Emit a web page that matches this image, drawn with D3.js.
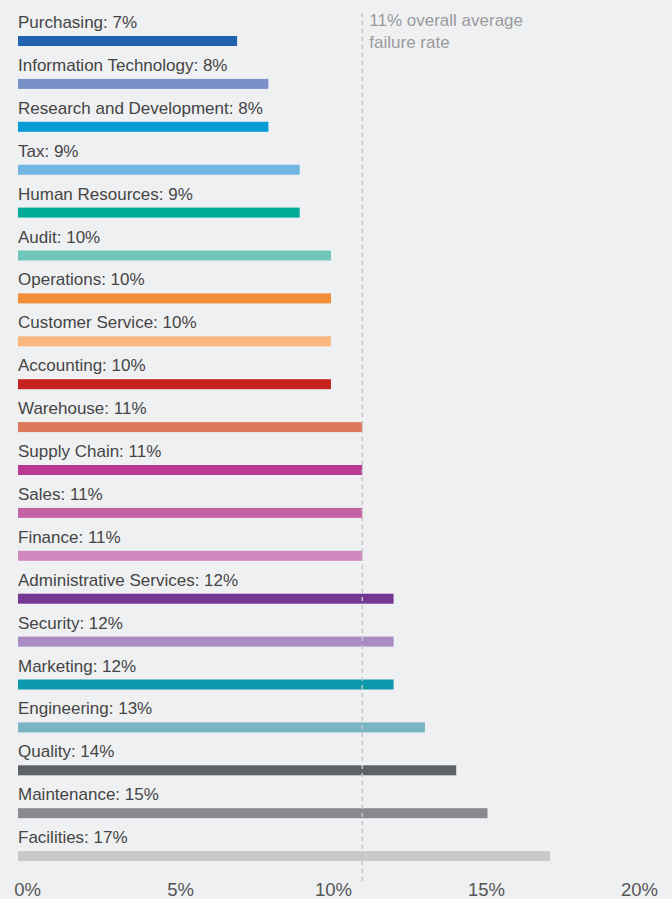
<!DOCTYPE html>
<html>
<head>
<meta charset="utf-8">
<script src="https://cdn.jsdelivr.net/npm/d3@7"></script>
<style>
  html, body { margin: 0; padding: 0; background: #eff0f2; }
  svg { display: block; font-family: "Liberation Sans", Arial, Helvetica, sans-serif; }
</style>
</head>
<body>
<svg id="chart" width="672" height="899"></svg>
<script>
// Failure rate by department
const departments = [
  "Purchasing", "Information Technology", "Research and Development", "Tax",
  "Human Resources", "Audit", "Operations", "Customer Service", "Accounting",
  "Warehouse", "Supply Chain", "Sales", "Finance", "Administrative Services",
  "Security", "Marketing", "Engineering", "Quality", "Maintenance", "Facilities"
];
const rates = [7, 8, 8, 9, 9, 10, 10, 10, 10, 11, 11, 11, 11, 12, 12, 12, 13, 14, 15, 17];
const barColors = [
  "#2163ae", "#7a90c8", "#079bd8", "#72b6e4", "#00ac97", "#6ec7ba",
  "#f58e39", "#fab77f", "#c6221e", "#dc775b", "#b93891", "#c463a4",
  "#d089be", "#733893", "#aa8bc3", "#0b99ab", "#79b5c3", "#5f6168",
  "#898a8f", "#c8c9c9"
];
const averageRate = 11;
const averageNote = ["11% overall average", "failure rate"];
const axisTicks = [0, 5, 10, 15, 20];

const svg = d3.select("#chart");

const x = d3.scaleLinear().domain([0, 20]).range([18, 644]);
const y = d3.scaleBand().domain(departments).range([36, 36 + 42.9 * 20]).paddingInner(0);
const barH = 10;

// Axis labels sit on their own spacing along the bottom
const xAxisScale = d3.scaleLinear().domain([0, 20]).range([27, 639]);

const rows = svg.append("g").selectAll("g")
  .data(departments.map((d, i) => ({ name: d, value: rates[i], color: barColors[i] })))
  .join("g");

rows.append("rect")
  .attr("x", x(0))
  .attr("y", d => y(d.name))
  .attr("width", d => x(d.value) - x(0))
  .attr("height", barH)
  .attr("fill", d => d.color);

rows.append("text")
  .attr("x", x(0))
  .attr("y", d => y(d.name) - 8)
  .attr("font-size", 17)
  .attr("fill", "#454545")
  .text(d => `${d.name}: ${d.value}%`);

// Overall average reference line
svg.append("line")
  .attr("x1", x(averageRate)).attr("x2", x(averageRate))
  .attr("y1", 13).attr("y2", 885)
  .attr("stroke", "#c4c5c7")
  .attr("stroke-width", 1.5)
  .attr("stroke-dasharray", "4,4");

svg.append("text")
  .attr("x", x(averageRate) + 7)
  .attr("y", 26)
  .attr("font-size", 17)
  .attr("fill", "#9a9a9c")
  .selectAll("tspan")
  .data(averageNote)
  .join("tspan")
  .attr("x", x(averageRate) + 7)
  .attr("dy", (d, i) => i === 0 ? 0 : 21.5)
  .text(d => d);

// Bottom axis labels
const axis = d3.axisBottom(xAxisScale)
  .tickValues(axisTicks)
  .tickFormat(d => d + "%")
  .tickSize(0)
  .tickPadding(0);

const axisG = svg.append("g")
  .attr("transform", "translate(0,883)")
  .call(axis);
axisG.select(".domain").remove();
axisG.selectAll("text")
  .attr("font-family", "Liberation Sans, Arial, sans-serif")
  .attr("font-size", 18.5)
  .attr("fill", "#555")
  .attr("dy", "0.71em");
</script>
</body>
</html>
